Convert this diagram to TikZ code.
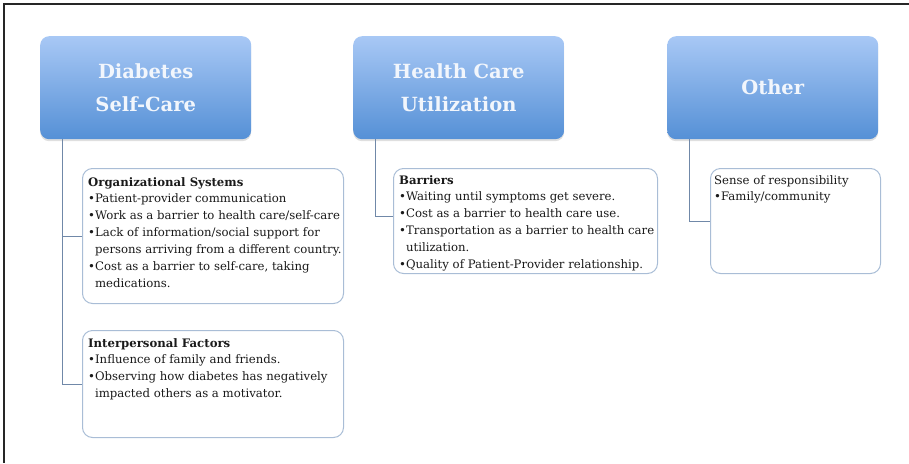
\documentclass[tikz,border=0pt]{standalone}
\usepackage{fontspec}
\setmainfont{DejaVu Serif}
\usetikzlibrary{shadows}
\definecolor{hdtop}{HTML}{A8C8F5}
\definecolor{hdbot}{HTML}{5590D6}
\definecolor{subline}{HTML}{A9BDD6}
\definecolor{connline}{HTML}{7088A8}
\definecolor{hdtext}{HTML}{F2F6FC}
\definecolor{bodytext}{HTML}{1A1A1A}
\begin{document}
\begin{tikzpicture}[x=1pt,y=-1pt,
 header/.style={rounded corners=9pt, top color=hdtop, bottom color=hdbot, draw=none,
   minimum width=211pt, minimum height=103pt, anchor=north west, inner sep=0pt,
   text=hdtext, font=\fontsize{19.5}{33}\selectfont\bfseries, align=center,
   drop shadow={shadow xshift=0pt, shadow yshift=-2pt, opacity=0.25}},
 subbox/.style={draw=subline, line width=1pt, rounded corners=10pt, anchor=north west, inner sep=0pt, fill=white},
 body/.style={anchor=north west, inner sep=0pt, align=left, text=bodytext, font=\fontsize{11.7}{16.9}\selectfont},
 conn/.style={draw=connline, line width=1pt}]
\useasboundingbox (0,0) rectangle (909,463);
\draw[line width=1.5pt, black!85] (909,4) -- (4,4) -- (4,463);

\node[header] (h1) at (40,36) {Diabetes\\Self-Care};
\node[header] (h2) at (353,36) {Health Care\\Utilization};
\node[header] (h3) at (667,36) {Other};

\coordinate (c1) at ([xshift=22pt]h1.south west);
\coordinate (c2) at ([xshift=22pt]h2.south west);
\coordinate (c3) at ([xshift=22pt]h3.south west);

\node[subbox, minimum width=261pt, minimum height=135pt] (org) at (82,168) {};
\node[subbox, minimum width=261pt, minimum height=107pt] (inter) at (82,330) {};
\node[subbox, minimum width=264pt, minimum height=105pt] (barr) at (393,168) {};
\node[subbox, minimum width=170pt, minimum height=105pt] (oth) at (710,168) {};

\draw[conn] (c1) |- (org.west);
\draw[conn] (c1) |- (inter.west);
\draw[conn] (c2) |- ([yshift=5pt]barr.west);
\draw[conn] (c3) |- (oth.west);

\node[body] (torg) at (88,177) {\textbf{Organizational Systems}\\
•Patient-provider communication\\
•Work as a barrier to health care/self-care\\
•Lack of information/social support for\\
\hphantom{•}persons arriving from a different country.\\
•Cost as a barrier to self-care, taking\\
\hphantom{•}medications.};

\node[body] (tinter) at (88,338) {\textbf{Interpersonal Factors}\\
•Influence of family and friends.\\
•Observing how diabetes has negatively\\
\hphantom{•}impacted others as a motivator.};

\node[body] (tbarr) at (399,175) {\textbf{Barriers}\\
•Waiting until symptoms get severe.\\
•Cost as a barrier to health care use.\\
•Transportation as a barrier to health care\\
\hphantom{•}utilization.\\
•Quality of Patient-Provider relationship.};

\node[body] (toth) at (714,175) {Sense of responsibility\\
•Family/community};
\end{tikzpicture}
\end{document}
